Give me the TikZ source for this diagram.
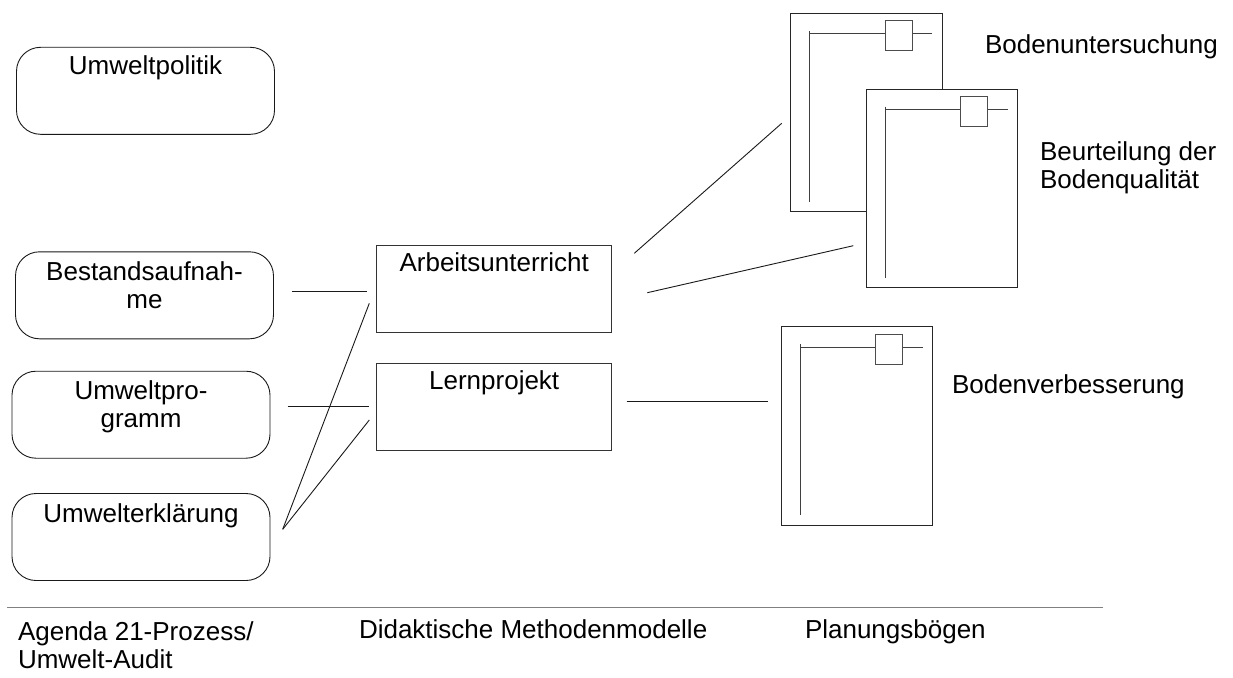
\documentclass[tikz,border=0pt]{standalone}
\usepackage{fontspec}
\setmainfont{Liberation Sans}
\begin{document}
\begin{tikzpicture}[x=1pt,y=-1pt,
  every node/.style={inner sep=0pt,outer sep=0pt},
  conn/.style={draw=black!90,line width=0.9pt},
  rbox/.style={draw=black!90,line width=0.9pt,rounded corners=24pt,minimum width=258pt,minimum height=87pt},
  mbox/.style={draw=black!80,line width=1pt,minimum width=235pt,minimum height=87pt},
  docframe/.style={draw=black!85,fill=white,line width=1pt,minimum width=151.6pt,minimum height=198.4pt,anchor=north west},
  docline/.style={draw=black!75,line width=1pt},
  docbox/.style={draw=black!70,fill=white,line width=1pt,minimum width=27pt,minimum height=30pt,anchor=north west},
  txt/.style={font=\fontsize{26}{28}\selectfont,align=center},
  ltxt/.style={font=\fontsize{26}{28}\selectfont,align=left,anchor=north west},
  pics/planbogen/.style={code={
    \node[docframe] (-f) at (0,0) {};
    \draw[docline] (19,17.7) -- (19,188.7);
    \draw[docline] (19,20.7) -- (141.6,20.7);
    \node[docbox] (-b) at (94.6,7.7) {};
  }}]
\useasboundingbox[fill=white] (0,0) rectangle (1233,677);

% left rounded boxes
\node[rbox] (pol) at (145.5,90.8) {};
\node[rbox] (bst) at (144.5,295.3) {};
\node[rbox] (prg) at (141,414.7) {};
\node[rbox] (erk) at (141,537) {};
\node[txt,anchor=north] (tpol) at ([yshift=-8pt]pol.north) {Umweltpolitik};
\node[txt,anchor=north] (tbst) at ([yshift=-10pt]bst.north) {Bestandsaufnah-\\me};
\node[txt,anchor=north] (tprg) at ([yshift=-9pt]prg.north) {Umweltpro-\\gramm};
\node[txt,anchor=north] (terk) at ([yshift=-10pt]erk.north) {Umwelterklärung};

% method boxes
\node[mbox] (arb) at (494.2,289.2) {};
\node[mbox] (lrn) at (494.2,406.7) {};
\node[txt,anchor=north] (tarb) at ([yshift=-7pt]arb.north) {Arbeitsunterricht};
\node[txt,anchor=north] (tlrn) at ([yshift=-7pt]lrn.north) {Lernprojekt};

% planning sheets
\pic (d1) at (790.7,13.3) {planbogen};
\pic (d2) at (866.3,89) {planbogen};
\pic (d3) at (781.3,326.7) {planbogen};

\node[ltxt] (td1) at (985,35) {Bodenuntersuchung};
\node[ltxt] (td2) at (1040,142) {Beurteilung der\\Bodenqualität};
\node[ltxt] (td3) at (952,375) {Bodenverbesserung};

% connector end points
\coordinate (a1) at (292.3,291.7); \coordinate (b1) at (367.3,291.7);
\coordinate (a2) at (287.7,406.7); \coordinate (b2) at (369.3,406.7);
\coordinate (a3) at (282.7,529.3); \coordinate (b3) at (369.3,303.3);
\coordinate (b4) at (369.3,420);
\coordinate (a5) at (626.7,401);   \coordinate (b5) at (768.3,401);
\coordinate (a6) at (634.3,253.3); \coordinate (b6) at (781.7,123.3);
\coordinate (a7) at (647.3,292.7); \coordinate (b7) at (853.3,245.7);

\draw[conn] (a1) -- (b1);
\draw[conn] (a2) -- (b2);
\draw[conn] (a3) -- (b3);
\draw[conn] (a3) -- (b4);
\draw[conn] (a5) -- (b5);
\draw[conn] (a6) -- (b6);
\draw[conn] (a7) -- (b7);

% bottom rule and column titles
\coordinate (r1) at (7.3,607.3); \coordinate (r2) at (1103.3,607.3);
\draw[draw=black!50,line width=1.3pt] (r1) -- (r2);
\node[ltxt] (c1) at (18,622) {Agenda 21-Prozess/\\Umwelt-Audit};
\node[ltxt] (c2) at (359,620) {Didaktische Methodenmodelle};
\node[ltxt] (c3) at (805,620) {Planungsbögen};
\end{tikzpicture}
\end{document}
